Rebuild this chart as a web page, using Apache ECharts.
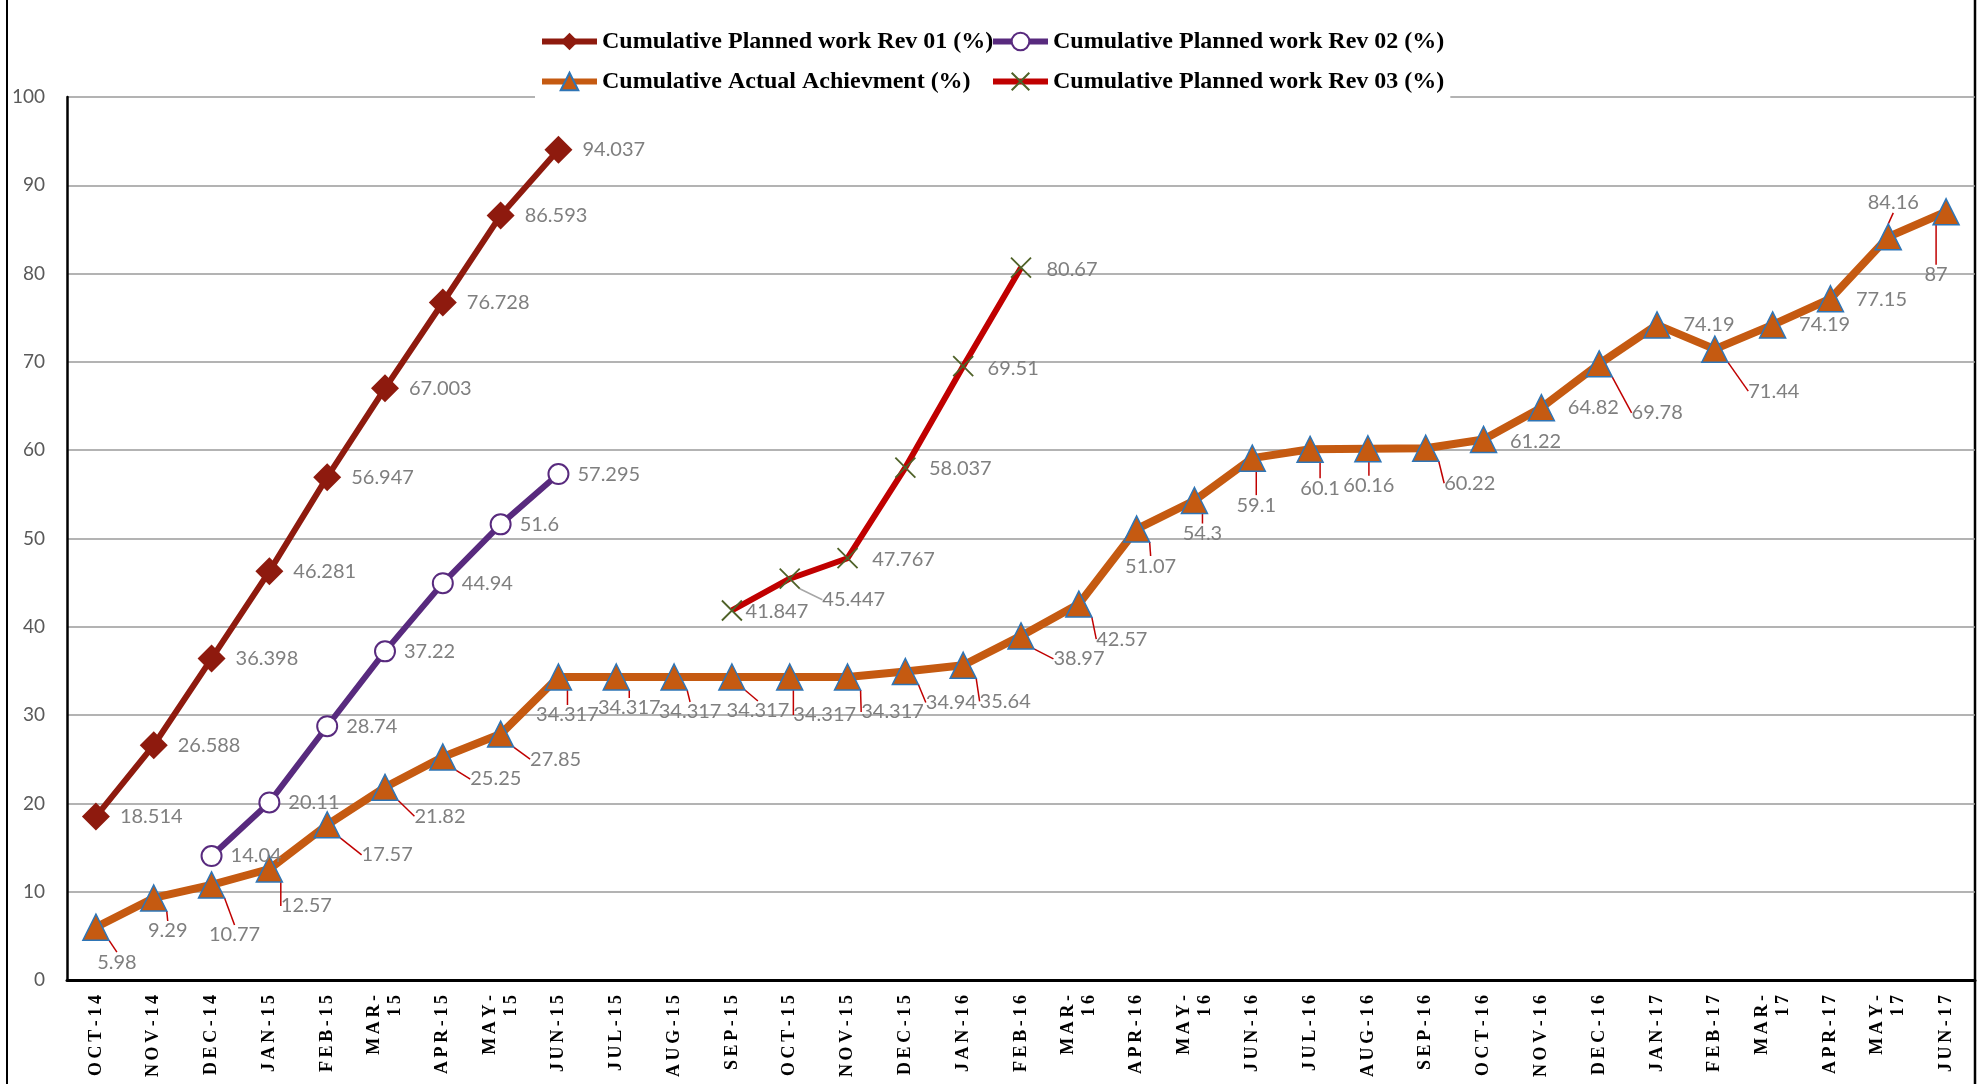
<!DOCTYPE html>
<html>
<head>
<meta charset="utf-8">
<script src="https://cdn.jsdelivr.net/npm/echarts@6/dist/echarts.min.js"></script>
<style>
  html, body { margin: 0; padding: 0; background: #fff; }
  #chart { width: 1981px; height: 1084px; }
</style>
</head>
<body>
<div id="chart"></div>
<script>
const months = ['OCT-14', 'NOV-14', 'DEC-14', 'JAN-15', 'FEB-15', 'MAR-15', 'APR-15', 'MAY-15', 'JUN-15',
    'JUL-15', 'AUG-15', 'SEP-15', 'OCT-15', 'NOV-15', 'DEC-15', 'JAN-16', 'FEB-16', 'MAR-16', 'APR-16',
    'MAY-16', 'JUN-16', 'JUL-16', 'AUG-16', 'SEP-16', 'OCT-16', 'NOV-16', 'DEC-16', 'JAN-17', 'FEB-17',
    'MAR-17', 'APR-17', 'MAY-17', 'JUN-17']

const yTicks = [0, 10, 20, 30, 40, 50, 60, 70, 80, 90, 100]

// planned rev 01 starts at OCT-14
const rev01Start = 0
const rev01Values = [18.514, 26.588, 36.398, 46.281, 56.947, 67.003, 76.728, 86.593, 94.037]

// planned rev 02 starts at DEC-14
const rev02Start = 2
const rev02Values = [14.04, 20.11, 28.74, 37.22, 44.94, 51.6, 57.295]

// planned rev 03 starts at SEP-15
const rev03Start = 11
const rev03Values = [41.847, 45.447, 47.767, 58.037, 69.51, 80.67]

const actualValues = [5.98, 9.29, 10.77, 12.57, 17.57, 21.82, 25.25, 27.85, 34.317, 34.317, 34.317,
    34.317, 34.317, 34.317, 34.94, 35.64, 38.97, 42.57, 51.07, 54.3, 59.1, 60.1, 60.16, 60.22, 61.22,
    64.82, 69.78, 74.19, 71.44, 74.19, 77.15, 84.16, 87]

const names = ['Cumulative Planned work Rev 01 (%)', 'Cumulative Planned work Rev 02 (%)',
    'Cumulative Actual Achievment (%)', 'Cumulative Planned work Rev 03 (%)']

// label nudges [dx, dy, leader line] like the excel chart has them
const actualLabelShift = [[21, 35, 1], [14, 33, 1], [23, 50, 1], [37, 37, 1], [60, 30, 1], [55, 29, 1],
    [53, 22, 1], [55, 25, 1], [9, 38, 1], [13, 31, 1], [16, 35, 1], [26, 34, 1], [35, 38, 1], [45, 35, 1],
    [46, 31, 1], [42, 36, 1], [58, 23, 1], [43, 35, 1], [14, 37, 1], [8, 33, 1], [4, 47, 1], [10, 39, 1],
    [1, 37, 1], [44, 35, 1], [52, 2, 0], [52, 0, 0], [58, 49, 1], [52, 0, 0], [59, 42, 1], [52, 0, 0],
    [51, 1, 0], [5, -34, 1], [-10, 63, 1]]
const rev03LabelShift = [[45, 1, 0], [64, 21, 1], [56, 1, 0], [55, 1, 0], [50, 2, 0], [51, 2, 0]]

function pad(start, vals) {
    let out = []
    for (let i = 0; i < months.length; i++) {
        let j = i - start
        out.push(j >= 0 && j < vals.length ? vals[j] : null)
    }
    return out
}

const labelFont = {
    color: '#7f7f7f',
    fontFamily: 'Lato',
    fontSize: 20
}

const legendBase = {
    orient: 'vertical',
    top: 25,
    itemWidth: 55,
    itemHeight: 22,
    itemGap: 15,
    backgroundColor: '#fff',
    lineStyle: { width: 6 },
    textStyle: { fontFamily: 'Liberation Serif', fontWeight: 'bold', fontSize: 24, color: '#000', lineHeight: 25 }
}

const chart = echarts.init(document.getElementById('chart'))

chart.setOption({
    animation: false,
    backgroundColor: '#fff',
    grid: { left: 67, right: 6, top: 97, bottom: 104 },
    legend: [
        Object.assign({ data: [names[0], names[2]], left: 535, padding: [4, 14, 8, 4] }, legendBase),
        Object.assign({ data: [names[1], names[3]], left: 986, padding: [4, 6, 8, 4] }, legendBase)
    ],
    xAxis: {
        type: 'category',
        data: months,
        boundaryGap: true,
        axisTick: { show: false },
        axisLine: { lineStyle: { color: '#000', width: 3 } },
        axisLabel: {
            interval: 0,
            rotate: 90,
            margin: 15,
            color: '#000',
            fontFamily: 'Liberation Serif',
            fontWeight: 'bold',
            fontSize: 18,
            lineHeight: 21,
            formatter: (v) => {
                let parts = (v.startsWith('MAR') || v.startsWith('MAY')) ? [v.slice(0, 4), v.slice(4)] : [v]
                return parts.map(p => p.split('').join('\u2009')).join('\n')
            }
        }
    },
    yAxis: {
        type: 'value',
        min: yTicks[0],
        max: yTicks[yTicks.length - 1],
        interval: yTicks[1] - yTicks[0],
        axisLine: { show: true, lineStyle: { color: '#000', width: 2.5 } },
        axisTick: { show: false },
        axisLabel: { margin: 22, color: '#595959', fontFamily: 'Lato', fontSize: 19 },
        splitLine: { lineStyle: { color: '#9a9a9a', width: 1.5 } }
    },
    graphic: [
        { type: 'line', shape: { x1: 7, y1: 0, x2: 7, y2: 1084 }, style: { stroke: '#000', lineWidth: 2 } },
        { type: 'line', shape: { x1: 1975, y1: 0, x2: 1975, y2: 1084 }, style: { stroke: '#000', lineWidth: 2.5 } }
    ],
    series: [
        {
            name: names[2],
            type: 'line',
            data: actualValues.map((v, i) => ({ value: v, labelLine: { show: actualLabelShift[i][2] === 1 } })),
            symbol: 'triangle',
            symbolSize: 26,
            lineStyle: { color: '#c55a11', width: 8 },
            itemStyle: { color: '#c55a11', borderColor: '#2e75b6', borderWidth: 1.5 },
            label: Object.assign({ show: true, position: 'inside' }, labelFont),
            labelLine: { show: false, lineStyle: { color: '#c00000', width: 1.5 } },
            labelLayout: (p) => ({ dx: actualLabelShift[p.dataIndex][0], dy: actualLabelShift[p.dataIndex][1] }),
            z: 2
        },
        {
            name: names[0],
            type: 'line',
            data: pad(rev01Start, rev01Values),
            symbol: 'diamond',
            symbolSize: 28,
            lineStyle: { color: '#8e1a0e', width: 6 },
            itemStyle: { color: '#8e1a0e' },
            label: Object.assign({ show: true, position: 'right', distance: 10 }, labelFont),
            z: 3
        },
        {
            name: names[1],
            type: 'line',
            data: pad(rev02Start, rev02Values),
            symbol: 'emptyCircle',
            symbolSize: 20,
            lineStyle: { color: '#582a7e', width: 6 },
            itemStyle: { color: '#582a7e', borderColor: '#582a7e', borderWidth: 4 },
            label: Object.assign({ show: true, position: 'right', distance: 8 }, labelFont),
            z: 3
        },
        {
            name: names[3],
            type: 'line',
            data: pad(rev03Start, rev03Values).map((v, i) => {
                let j = i - rev03Start
                return { value: v, labelLine: { show: j >= 0 && j < rev03LabelShift.length && rev03LabelShift[j][2] === 1 } }
            }),
            symbol: 'path://M0,0L20,20M20,0L0,20',
            symbolSize: 20,
            lineStyle: { color: '#c00000', width: 6 },
            itemStyle: { color: 'transparent', borderColor: '#4f6228', borderWidth: 1.8 },
            label: Object.assign({ show: true, position: 'inside' }, labelFont),
            labelLine: { show: false, lineStyle: { color: '#a6a6a6', width: 1.5 } },
            labelLayout: (p) => {
                let s = rev03LabelShift[p.dataIndex - rev03Start]
                return s ? { dx: s[0], dy: s[1] } : {}
            },
            z: 3
        }
    ]
})
</script>
</body>
</html>
